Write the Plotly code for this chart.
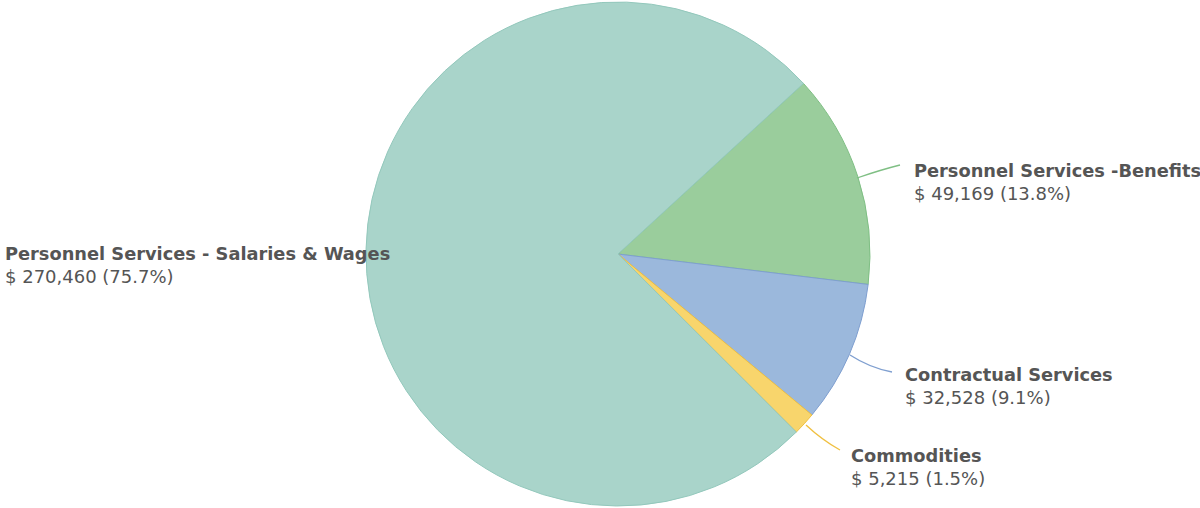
import plotly.graph_objects as go

categories = ["Personnel Services -Benefits", "Contractual Services", "Commodities",
              "Personnel Services - Salaries & Wages"]
values = [49169, 32528, 5215, 270460]
value_labels = ["$ 49,169 (13.8%)", "$ 32,528 (9.1%)", "$ 5,215 (1.5%)", "$ 270,460 (75.7%)"]
colors = ["#9acd9c", "#9bb8dc", "#f8d56c", "#a9d4ca"]
border_colors = ["#7fbf84", "#7f9fd0", "#f0c040", "#93c8bc"]

W, H = 1200, 508
cx, cy, r = 618, 254, 252

fig = go.Figure(go.Pie(
    labels=categories, values=values, sort=False, direction="clockwise",
    rotation=47.4, textinfo="none", hoverinfo="label+value+percent",
    marker=dict(colors=colors, line=dict(color=border_colors, width=1)),
    domain=dict(x=[(cx - r) / W, (cx + r) / W], y=[(H - cy - r) / H, (H - cy + r) / H]),
    showlegend=False,
))

# label positions (pixels, top-left origin)
label_pos = [(912, 170), (903, 374), (849, 455), (3, 253)]
leaders = [
    [(857, 178), (880, 170), (900, 165)],
    [(850, 355), (870, 368), (892, 372)],
    [(806, 425), (822, 440), (840, 450)],
    None,
]

def px(x):
    return x / W

def py(y):
    return 1 - y / H

annotations = []
shapes = []
for name, val, (lx, ly), col, lead in zip(categories, value_labels, label_pos, border_colors, leaders):
    annotations.append(dict(x=px(lx), y=py(ly), xref="paper", yref="paper", text="<b>" + name + "</b>",
                            showarrow=False, xanchor="left", yanchor="middle",
                            font=dict(family="DejaVu Sans", size=17.8, color="#555555")))
    annotations.append(dict(x=px(lx), y=py(ly + 23), xref="paper", yref="paper", text=val,
                            showarrow=False, xanchor="left", yanchor="middle",
                            font=dict(family="DejaVu Sans", size=18, color="#555555")))
    if lead:
        (x0, y0), (x1, y1), (x2, y2) = lead
        path = f"M {px(x0)},{py(y0)} Q {px(x1)},{py(y1)} {px(x2)},{py(y2)}"
        shapes.append(dict(type="path", path=path, xref="paper", yref="paper",
                           line=dict(color=col, width=1.3)))

fig.update_layout(
    width=W, height=H, margin=dict(l=0, r=0, t=0, b=0),
    paper_bgcolor="white", plot_bgcolor="white",
    annotations=annotations, shapes=shapes,
)

fig.write_html("out.html", config={"displayModeBar": False},
               post_script="document.body.style.margin='0';")
